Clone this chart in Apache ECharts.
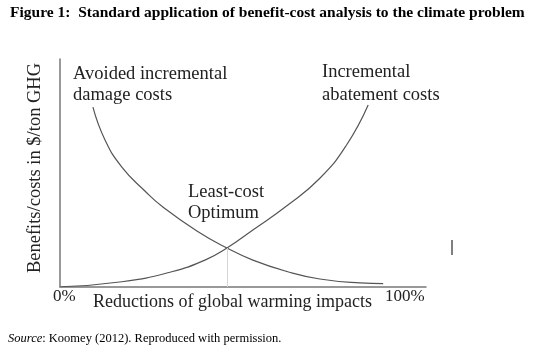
<!DOCTYPE html>
<html>
<head>
<meta charset="utf-8">
<script src="https://cdn.jsdelivr.net/npm/echarts@6/dist/echarts.min.js"></script>
<style>
    html, body { margin: 0; padding: 0; background: #fff; }
    #chart { width: 540px; height: 351px; }
</style>
</head>
<body>
<div id="chart"></div>
<script>
// curve points (x = % reduction, y = relative $/ton)
const damageX = [9.0, 12.3, 16.9, 23.2, 28.1, 37.4, 45.6, 52.7, 62.0, 71.0, 82.0, 88.3];
const damageY = [78.9, 64.5, 52.6, 42.1, 35.1, 24.6, 17.1, 11.8, 6.8, 3.5, 1.8, 1.5];
const abateX = [0.3, 16.9, 30.5, 39.6, 45.6, 52.7, 61.9, 71.0, 78.3, 84.2];
const abateY = [0.1, 2.3, 6.7, 11.8, 17.1, 25.0, 35.5, 47.7, 62.3, 79.8];
const optimum = [45.6, 17.1];
const tickLabels = ["0%", "100%"];

const serif = "'Liberation Serif', 'DejaVu Serif', serif";
const zip = (xs, ys) => xs.map((x, i) => [x, ys[i]]);

const chart = echarts.init(document.getElementById("chart"));

const txt = (text, x, y, opts) => ({
    type: "text",
    x: x,
    y: y,
    style: Object.assign({
        text: text,
        fontFamily: serif,
        fontSize: 18.5,
        fill: "#222",
        verticalAlign: "middle"
    }, opts || {})
});

const option = {
    animation: false,
    grid: { left: 60, right: 114, top: 59, bottom: 64 },
    xAxis: {
        type: "value",
        min: 0,
        max: 100,
        axisLine: { show: true, lineStyle: { color: "#777", width: 1.5 } },
        axisTick: { show: false },
        axisLabel: { show: false },
        splitLine: { show: false }
    },
    yAxis: {
        type: "value",
        min: 0,
        max: 100,
        axisLine: { show: true, lineStyle: { color: "#777", width: 1.5 } },
        axisTick: { show: false },
        axisLabel: { show: false },
        splitLine: { show: false }
    },
    series: [
        {
            name: "Avoided incremental damage costs",
            type: "line",
            data: zip(damageX, damageY),
            smooth: 0.5,
            symbol: "none",
            lineStyle: { color: "#555", width: 1.2 },
            markLine: {
                silent: true,
                symbol: "none",
                label: { show: false },
                lineStyle: { color: "#f3c9c9", width: 1, type: "solid" },
                data: [[{ coord: [optimum[0], 0] }, { coord: optimum }]]
            }
        },
        {
            name: "Incremental abatement costs",
            type: "line",
            data: zip(abateX, abateY),
            smooth: 0.5,
            symbol: "none",
            lineStyle: { color: "#555", width: 1.2 }
        }
    ],
    graphic: [
        txt("Figure 1:  Standard application of benefit-cost analysis to the climate problem", 10, 13,
            { fontSize: 15.5, fontWeight: "bold", fill: "#000" }),
        {
            type: "text",
            x: 35,
            y: 168,
            rotation: Math.PI / 2,
            style: {
                text: "Benefits/costs in $/ton GHG",
                fontFamily: serif,
                fontSize: 18.5,
                fill: "#222",
                align: "center",
                verticalAlign: "middle"
            }
        },
        txt("Avoided incremental", 73, 74),
        txt("damage costs", 73, 95),
        txt("Incremental", 322, 72),
        txt("abatement costs", 322, 95),
        txt("Least-cost", 188, 192),
        txt("Optimum", 188, 213),
        txt(tickLabels[0], 53, 297, { fontSize: 17 }),
        txt("Reductions of global warming impacts", 93, 302, { fontSize: 18 }),
        txt(tickLabels[1], 385, 297, { fontSize: 17 }),
        {
            type: "text",
            x: 8,
            y: 339,
            style: {
                rich: {
                    i: { fontFamily: serif, fontSize: 12.5, fontStyle: "italic", fill: "#000" },
                    n: { fontFamily: serif, fontSize: 12.5, fill: "#000" }
                },
                text: "{i|Source}{n|: Koomey (2012). Reproduced with permission.}",
                verticalAlign: "middle"
            }
        },
        {
            type: "line",
            shape: { x1: 452, y1: 240, x2: 452, y2: 255 },
            style: { stroke: "#000", lineWidth: 1 }
        }
    ]
};

chart.setOption(option);
</script>
</body>
</html>
